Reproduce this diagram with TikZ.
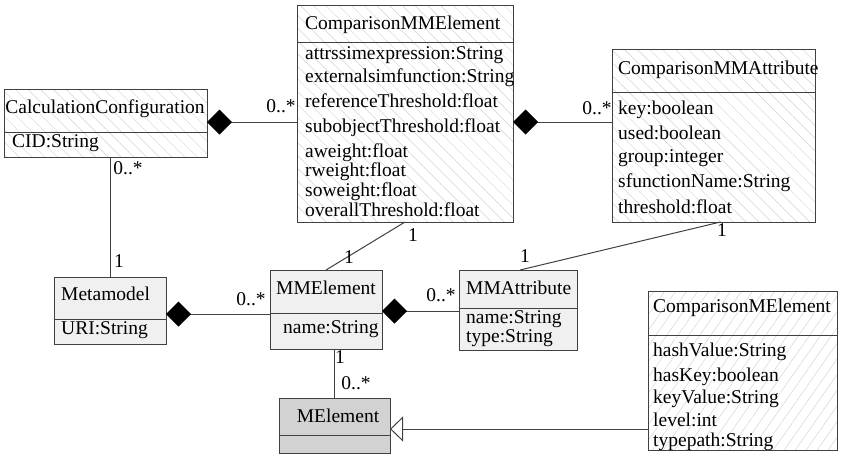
\documentclass[tikz,border=0pt]{standalone}
\usepackage{fontspec}
\setmainfont{Liberation Serif}
\usetikzlibrary{arrows.meta,patterns.meta,calc}

\definecolor{edge}{HTML}{404040}
\definecolor{lightbox}{HTML}{F0F0F0}
\definecolor{darkbox}{HTML}{D2D2D2}
\definecolor{hatch}{HTML}{D2D2D2}

\tikzset{
  classbox/.style={draw=edge, line width=1pt, rectangle, inner sep=0pt, outer sep=0pt, anchor=north west},
  plainfill/.style={fill=lightbox},
  abstractfill/.style={fill=darkbox},
  hatchback/.style={pattern={Lines[angle=-45,distance=9pt,line width=0.45pt]}, pattern color=hatch},
  hatchfwd/.style={pattern={Lines[angle=55,distance=9pt,line width=0.45pt]}, pattern color=hatch},
  divider/.style={draw=edge, line width=1pt},
  txt/.style={inner sep=0pt, font=\rmfamily\fontsize{19.5}{22}\selectfont, text height=13pt, text depth=4pt},
  attr/.style={txt, anchor=west},
  assoc/.style={draw=edge, line width=1pt},
  comp/.style={assoc, {Diamond[length=25pt,width=25pt,fill=black,color=black]}-},
  inherit/.style={assoc, -{Triangle[open,length=13pt,width=25pt,fill=white]}},
}

\begin{document}
\begin{tikzpicture}[x=1pt,y=-1pt]
\useasboundingbox (0,0) rectangle (841,456);

% class boxes
\node[classbox, hatchback, minimum width=203pt, minimum height=68pt]  (cc)   at (4,89)   {};
\node[classbox, hatchback, minimum width=216pt, minimum height=217pt] (cmme) at (297,5)  {};
\node[classbox, hatchback, minimum width=203pt, minimum height=173pt] (cmma) at (612,49)  {};
\node[classbox, plainfill, minimum width=112pt, minimum height=67pt]  (mm)   at (54,277) {};
\node[classbox, plainfill, minimum width=112pt, minimum height=79pt]  (mme)  at (270,270) {};
\node[classbox, plainfill, minimum width=118pt, minimum height=80pt]  (mma)  at (459,270) {};
\node[classbox, abstractfill, minimum width=111pt, minimum height=55pt] (mel) at (279,398) {};
\node[classbox, hatchfwd, minimum width=189pt, minimum height=159pt]  (cme)  at (648,291) {};

% compartment dividers
\draw[divider] (cc.west |- 0,132)   -- (cc.east |- 0,132);
\draw[divider] (cmme.west |- 0,42)  -- (cmme.east |- 0,42);
\draw[divider] (cmma.west |- 0,92)  -- (cmma.east |- 0,92);
\draw[divider] (mm.west |- 0,319)   -- (mm.east |- 0,319);
\draw[divider] (mme.west |- 0,313)  -- (mme.east |- 0,313);
\draw[divider] (mma.west |- 0,308)  -- (mma.east |- 0,308);
\draw[divider] (mel.west |- 0,435)  -- (mel.east |- 0,435);
\draw[divider] (cme.west |- 0,335)  -- (cme.east |- 0,335);

% CalculationConfiguration
\node[txt]  (cct) at (105,109) {CalculationConfiguration};
\node[attr] (cca) at (12,143)  {CID:String};

% ComparisonMMElement
\node[attr] (cmmet) at (305,25)  {ComparisonMMElement};
\node[attr] (cmme1) at (305,55)  {attrssimexpression:String};
\node[attr] (cmme2) at (305,78)  {externalsimfunction:String};
\node[attr] (cmme3) at (305,103) {referenceThreshold:float};
\node[attr] (cmme4) at (305,128) {subobjectThreshold:float};
\node[attr] (cmme5) at (305,153) {aweight:float};
\node[attr] (cmme6) at (305,172) {rweight:float};
\node[attr] (cmme7) at (305,192) {soweight:float};
\node[attr] (cmme8) at (305,212) {overallThreshold:float};

% ComparisonMMAttribute
\node[attr] (cmmat) at (618,70)  {ComparisonMMAttribute};
\node[attr] (cmma1) at (618,110) {key:boolean};
\node[attr] (cmma2) at (618,135) {used:boolean};
\node[attr] (cmma3) at (618,158) {group:integer};
\node[attr] (cmma4) at (618,183) {sfunctionName:String};
\node[attr] (cmma5) at (618,209) {threshold:float};

% ComparisonMElement
\node[attr] (cmet) at (653,308) {ComparisonMElement};
\node[attr] (cme1) at (653,352) {hashValue:String};
\node[attr] (cme2) at (653,377) {hasKey:boolean};
\node[attr] (cme3) at (653,399) {keyValue:String};
\node[attr] (cme4) at (653,422) {level:int};
\node[attr] (cme5) at (653,442) {typepath:String};

% Metamodel, MMElement, MMAttribute, MElement
\node[attr] (mmt)  at (61,296)  {Metamodel};
\node[attr] (mma1) at (61,330)  {URI:String};
\node[txt]  (mmet) at (326,290) {MMElement};
\node[attr] (mme1) at (283,329) {name:String};
\node[attr] (mmat) at (466,290) {MMAttribute};
\node[attr] (mmaa) at (466,319) {name:String};
\node[attr] (mmab) at (466,338) {type:String};
\node[txt]  (melt) at (338,418) {MElement};

% connectors
\draw[comp] (cc.east |- 0,122)   -- (cmme.west |- 0,122);
\draw[comp] (cmme.east |- 0,122) -- (cmma.west |- 0,122);
\draw[comp] (mm.east |- 0,314)   -- (mme.west |- 0,314);
\draw[comp] (mme.east |- 0,311)  -- (mma.west |- 0,311);
\draw[inherit] (cme.west |- 0,429) -- (mel.east |- 0,429);
\draw[assoc] (mm.north |- cc.south) -- (mm.north);
\draw[assoc] (mel.north |- mme.south) -- (mel.north);
\draw[assoc] (cmme.south) -- (mme.north);
\draw[assoc] ([xshift=7pt]cmma.south) -- ([xshift=2pt]mma.north);

% multiplicities
\node[txt] (m1)  at (281,108) {0..*};
\node[txt] (m2)  at (597,110) {0..*};
\node[txt] (m3)  at (128,170) {0..*};
\node[txt] (m4)  at (119,263) {1};
\node[txt] (m5)  at (413,237) {1};
\node[txt] (m6)  at (349,259) {1};
\node[txt] (m7)  at (722,232) {1};
\node[txt] (m8)  at (525,258) {1};
\node[txt] (m9)  at (251,301) {0..*};
\node[txt] (m10) at (441,297) {0..*};
\node[txt] (m11) at (340,359) {1};
\node[txt] (m12) at (356,385) {0..*};
\end{tikzpicture}
\end{document}
